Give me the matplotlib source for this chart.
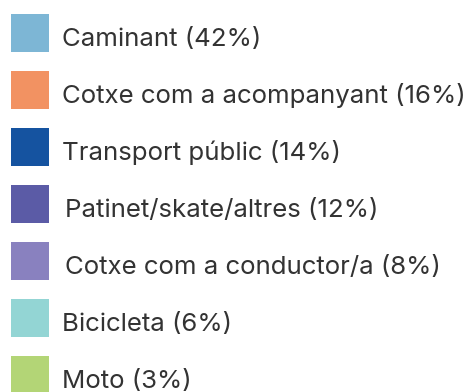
import matplotlib
matplotlib.use('Agg')
import matplotlib.pyplot as plt

# mode share of trips (percent)
modes = ['Caminant', 'Cotxe com a acompanyant', 'Transport públic',
         'Patinet/skate/altres', 'Cotxe com a conductor/a', 'Bicicleta', 'Moto']
shares = [42, 16, 14, 12, 8, 6, 3]
colors = ['#7db6d5', '#f29262', '#1553a0', '#5b5ba6', '#8981bf', '#93d5d4', '#b3d576']


def main():
    W, H = 470, 392
    fig = plt.figure(figsize=(W / 100, H / 100), dpi=100)
    ax = fig.add_axes([0, 0, 1, 1])
    ax.set_xlim(0, W)
    ax.set_ylim(H, 0)
    ax.axis('off')

    size = 38
    step = 57
    top = 33
    rows = [top + i * step for i in range(len(modes))]

    ax.barh(rows, [size] * len(rows), left=11, height=size, color=colors)
    for i, (m, s) in enumerate(zip(modes, shares)):
        # a couple of labels sit a touch further right
        dx = 3 if i in (3, 4) else 0
        ax.text(62 + dx, rows[i] + 13, f'{m} ({s}%)', fontsize=18.6,
                family='Inter', color='#333333', va='baseline', ha='left')

    fig.savefig('out.png', dpi=100)


if __name__ == '__main__':
    main()
